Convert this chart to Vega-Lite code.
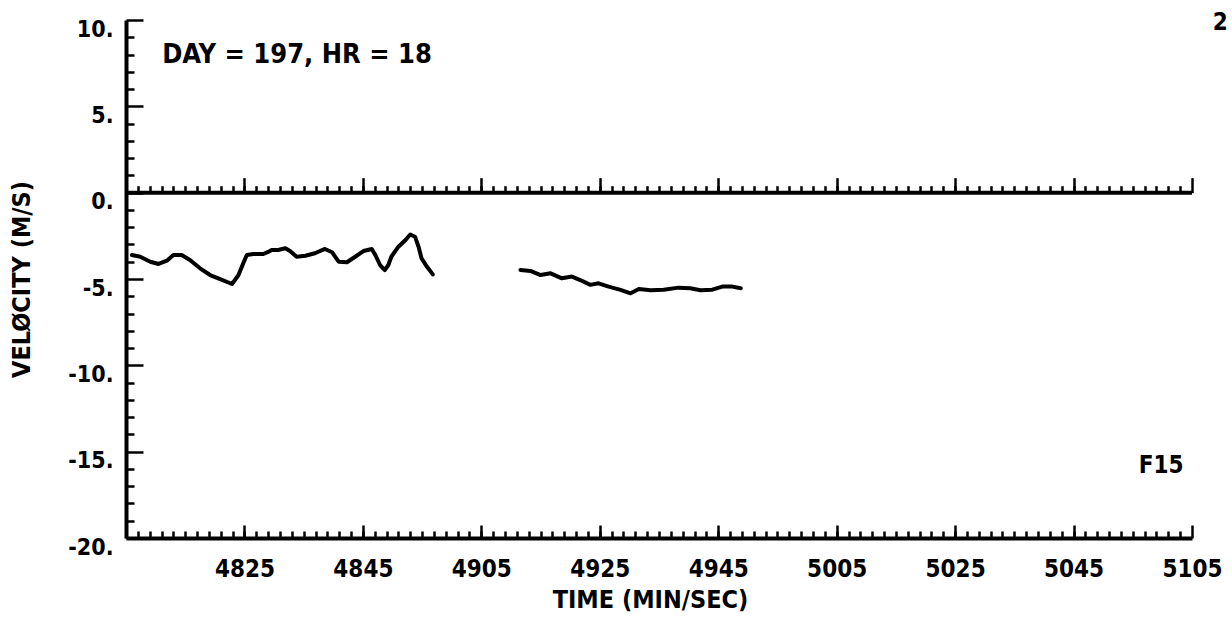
{
  "$schema": "https://vega.github.io/schema/vega-lite/v6.json",
  "width": 1066,
  "height": 518,
  "autosize": {"type": "none"},
  "padding": {"left": 126, "top": 20, "right": 40, "bottom": 79},
  "background": "white",
  "config": {
    "view": {"stroke": null},
    "axis": {
      "grid": false,
      "domainColor": "black",
      "tickColor": "black",
      "labelColor": "black",
      "titleColor": "black",
      "labelFont": "DejaVu Sans Condensed, DejaVu Sans",
      "titleFont": "DejaVu Sans Condensed, DejaVu Sans",
      "labelFontWeight": "bold",
      "titleFontWeight": "bold"
    }
  },
  "datasets": {
    "vel": [
      {"seg": 1, "t": 2886.0, "v": -3.61},
      {"seg": 1, "t": 2887.4, "v": -3.71},
      {"seg": 1, "t": 2889.1, "v": -4.00},
      {"seg": 1, "t": 2890.5, "v": -4.13},
      {"seg": 1, "t": 2891.9, "v": -3.94},
      {"seg": 1, "t": 2893.0, "v": -3.61},
      {"seg": 1, "t": 2894.4, "v": -3.61},
      {"seg": 1, "t": 2895.8, "v": -3.90},
      {"seg": 1, "t": 2897.5, "v": -4.38},
      {"seg": 1, "t": 2899.2, "v": -4.77},
      {"seg": 1, "t": 2900.9, "v": -5.01},
      {"seg": 1, "t": 2902.9, "v": -5.29},
      {"seg": 1, "t": 2904.0, "v": -4.77},
      {"seg": 1, "t": 2904.8, "v": -4.09},
      {"seg": 1, "t": 2905.4, "v": -3.61},
      {"seg": 1, "t": 2906.5, "v": -3.55},
      {"seg": 1, "t": 2908.2, "v": -3.55},
      {"seg": 1, "t": 2909.0, "v": -3.43},
      {"seg": 1, "t": 2909.6, "v": -3.32},
      {"seg": 1, "t": 2910.7, "v": -3.32},
      {"seg": 1, "t": 2911.9, "v": -3.22},
      {"seg": 1, "t": 2912.7, "v": -3.38},
      {"seg": 1, "t": 2913.8, "v": -3.71},
      {"seg": 1, "t": 2915.3, "v": -3.65},
      {"seg": 1, "t": 2916.9, "v": -3.51},
      {"seg": 1, "t": 2918.6, "v": -3.26},
      {"seg": 1, "t": 2919.8, "v": -3.45},
      {"seg": 1, "t": 2920.9, "v": -4.00},
      {"seg": 1, "t": 2922.3, "v": -4.03},
      {"seg": 1, "t": 2923.7, "v": -3.71},
      {"seg": 1, "t": 2925.1, "v": -3.38},
      {"seg": 1, "t": 2926.5, "v": -3.26},
      {"seg": 1, "t": 2927.1, "v": -3.61},
      {"seg": 1, "t": 2927.9, "v": -4.19},
      {"seg": 1, "t": 2928.7, "v": -4.48},
      {"seg": 1, "t": 2929.3, "v": -4.19},
      {"seg": 1, "t": 2929.8, "v": -3.71},
      {"seg": 1, "t": 2931.0, "v": -3.13},
      {"seg": 1, "t": 2932.2, "v": -2.74},
      {"seg": 1, "t": 2933.0, "v": -2.42},
      {"seg": 1, "t": 2933.8, "v": -2.55},
      {"seg": 1, "t": 2934.4, "v": -3.13},
      {"seg": 1, "t": 2934.9, "v": -3.80},
      {"seg": 1, "t": 2935.8, "v": -4.28},
      {"seg": 1, "t": 2936.8, "v": -4.73},
      {"seg": 2, "t": 2951.6, "v": -4.48},
      {"seg": 2, "t": 2953.3, "v": -4.53},
      {"seg": 2, "t": 2955.0, "v": -4.77},
      {"seg": 2, "t": 2956.7, "v": -4.67},
      {"seg": 2, "t": 2958.6, "v": -4.96},
      {"seg": 2, "t": 2960.3, "v": -4.86},
      {"seg": 2, "t": 2961.7, "v": -5.06},
      {"seg": 2, "t": 2963.4, "v": -5.34},
      {"seg": 2, "t": 2964.8, "v": -5.25},
      {"seg": 2, "t": 2966.5, "v": -5.44},
      {"seg": 2, "t": 2968.5, "v": -5.63},
      {"seg": 2, "t": 2970.2, "v": -5.83},
      {"seg": 2, "t": 2971.6, "v": -5.58},
      {"seg": 2, "t": 2973.6, "v": -5.65},
      {"seg": 2, "t": 2975.8, "v": -5.62},
      {"seg": 2, "t": 2978.3, "v": -5.50},
      {"seg": 2, "t": 2980.3, "v": -5.54},
      {"seg": 2, "t": 2982.0, "v": -5.65},
      {"seg": 2, "t": 2984.0, "v": -5.62},
      {"seg": 2, "t": 2985.7, "v": -5.44},
      {"seg": 2, "t": 2987.4, "v": -5.44},
      {"seg": 2, "t": 2988.8, "v": -5.54}
    ],
    "header": [{"label": "DAY = 197, HR = 18", "t": 2891.1, "v": 7.97}],
    "fleet": [{"label": "F15", "t": 3056.0, "v": -15.82}],
    "page": [{"label": "2", "t": 3068.5, "v": 9.83}],
    "zero": [{"t0": 2885, "t1": 3065, "v": 0}]
  },
  "layer": [
    {
      "data": {"name": "vel"},
      "mark": {"type": "line", "color": "black", "strokeWidth": 4, "strokeJoin": "round", "strokeCap": "round"},
      "encoding": {
        "x": {
          "field": "t", "type": "quantitative",
          "scale": {"domain": [2885, 3065], "nice": false, "zero": false},
          "axis": {
            "orient": "bottom",
            "title": "TIME  (MIN/SEC)",
            "values": [2885, 2905, 2925, 2945, 2965, 2985, 3005, 3025, 3045, 3065],
            "labelExpr": "datum.value == 2885 ? '' : format(floor(datum.value / 60), 'd') + format(datum.value % 60, '02d')",
            "ticks": false, "tickSize": 0, "domainWidth": 4,
            "labelPadding": 19, "labelFontSize": 24, "labelFlush": false, "labelOverlap": false,
            "titleFontSize": 25, "titlePadding": 6, "titleX": 524
          }
        },
        "y": {
          "field": "v", "type": "quantitative",
          "scale": {"domain": [-20, 10], "nice": false, "zero": false},
          "axis": {
            "orient": "left",
            "title": "VELØCITY  (M/S)",
            "values": [-20, -15, -10, -5, 0, 5, 10],
            "labelExpr": "datum.value + '.'",
            "ticks": false, "tickSize": 0, "domainWidth": 4,
            "labelPadding": 13, "labelFontSize": 23, "labelBaseline": "top", "labelOffset": -2,
            "labelOverlap": false, "labelFlush": false,
            "titleFontSize": 25, "titlePadding": 33
          }
        },
        "detail": {"field": "seg", "type": "nominal"}
      }
    },
    {
      "data": {"name": "zero"},
      "mark": {"type": "rule", "color": "black", "strokeWidth": 4},
      "encoding": {
        "x": {
          "field": "t0", "type": "quantitative",
          "scale": {"domain": [2885, 3065], "nice": false, "zero": false},
          "axis": {
            "orient": "top", "offset": -172.67, "title": null,
            "values": [2885, 2905, 2925, 2945, 2965, 2985, 3005, 3025, 3045, 3065],
            "labels": false, "domain": false, "tickSize": 15, "tickWidth": 2.5
          }
        },
        "x2": {"field": "t1"},
        "y": {"field": "v", "type": "quantitative", "axis": null}
      }
    },
    {
      "data": {"name": "header"},
      "mark": {"type": "text", "align": "left", "baseline": "middle", "font": "DejaVu Sans Condensed, DejaVu Sans", "fontWeight": "bold", "fontSize": 27, "color": "black"},
      "encoding": {
        "x": {
          "field": "t", "type": "quantitative",
          "axis": {
            "orient": "top", "offset": -518, "title": null,
            "values": [2887,2889,2891,2893,2895,2897,2899,2901,2903,2905,2907,2909,2911,2913,2915,2917,2919,2921,2923,2925,2927,2929,2931,2933,2935,2937,2939,2941,2943,2945,2947,2949,2951,2953,2955,2957,2959,2961,2963,2965,2967,2969,2971,2973,2975,2977,2979,2981,2983,2985,2987,2989,2991,2993,2995,2997,2999,3001,3003,3005,3007,3009,3011,3013,3015,3017,3019,3021,3023,3025,3027,3029,3031,3033,3035,3037,3039,3041,3043,3045,3047,3049,3051,3053,3055,3057,3059,3061,3063],
            "labels": false, "domain": false, "tickSize": 7, "tickWidth": 2.5
          }
        },
        "y": {
          "field": "v", "type": "quantitative",
          "axis": {
            "orient": "right", "offset": -1066, "title": null,
            "values": [-19,-18,-17,-16,-14,-13,-12,-11,-9,-8,-7,-6,-4,-3,-2,-1,1,2,3,4,6,7,8,9],
            "labels": false, "domain": false, "tickSize": 8, "tickWidth": 2.5
          }
        },
        "text": {"field": "label"}
      }
    },
    {
      "data": {"name": "fleet"},
      "mark": {"type": "text", "align": "left", "baseline": "middle", "font": "DejaVu Sans Condensed, DejaVu Sans", "fontWeight": "bold", "fontSize": 24, "color": "black"},
      "encoding": {
        "x": {
          "field": "t", "type": "quantitative",
          "axis": {
            "orient": "top", "offset": -172.67, "title": null,
            "values": [2887,2889,2891,2893,2895,2897,2899,2901,2903,2905,2907,2909,2911,2913,2915,2917,2919,2921,2923,2925,2927,2929,2931,2933,2935,2937,2939,2941,2943,2945,2947,2949,2951,2953,2955,2957,2959,2961,2963,2965,2967,2969,2971,2973,2975,2977,2979,2981,2983,2985,2987,2989,2991,2993,2995,2997,2999,3001,3003,3005,3007,3009,3011,3013,3015,3017,3019,3021,3023,3025,3027,3029,3031,3033,3035,3037,3039,3041,3043,3045,3047,3049,3051,3053,3055,3057,3059,3061,3063],
            "labels": false, "domain": false, "tickSize": 7, "tickWidth": 2.5
          }
        },
        "y": {
          "field": "v", "type": "quantitative",
          "axis": {
            "orient": "right", "offset": -1066, "title": null,
            "values": [-20, -15, -10, -5, 0, 5, 10],
            "labels": false, "domain": false, "tickSize": 17, "tickWidth": 2.5
          }
        },
        "text": {"field": "label"}
      }
    },
    {
      "data": {"name": "page"},
      "mark": {"type": "text", "align": "left", "baseline": "middle", "font": "DejaVu Sans Condensed, DejaVu Sans", "fontWeight": "bold", "fontSize": 24, "color": "black"},
      "encoding": {
        "x": {
          "field": "t", "type": "quantitative",
          "axis": {
            "orient": "top", "offset": -518, "title": null,
            "values": [2885, 2905, 2925, 2945, 2965, 2985, 3005, 3025, 3045, 3065],
            "labels": false, "domain": false, "tickSize": 13, "tickWidth": 2.5
          }
        },
        "y": {"field": "v", "type": "quantitative", "axis": null},
        "text": {"field": "label"}
      }
    }
  ],
  "resolve": {"axis": {"x": "independent", "y": "independent"}}
}
